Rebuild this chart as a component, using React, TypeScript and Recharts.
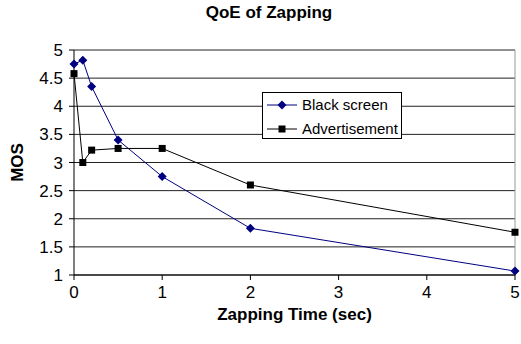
import React from 'react';
import { LineChart, Line, XAxis, YAxis, CartesianGrid, ReferenceLine } from 'recharts';

const FONT = '"Liberation Sans", Arial, sans-serif';

// zapping time (sec) and mean opinion scores per condition
const zapTimes = [0, 0.1, 0.2, 0.5, 1, 2, 5];
const blackScreen = [4.75, 4.82, 4.35, 3.4, 2.75, 1.83, 1.07];
const advertisement = [4.58, 3.0, 3.22, 3.25, 3.25, 2.6, 1.76];

const xTicks = [0, 1, 2, 3, 4, 5];
const yTicks = [1, 1.5, 2, 2.5, 3, 3.5, 4, 4.5, 5];

const rows = zapTimes.map((t, i) => ({ t, black: blackScreen[i], ad: advertisement[i] }));

const NAVY = '#000080';

const Diamond = (props: any) => {
  const { cx, cy, index } = props;
  const r = 4.5;
  return (
    <path
      key={`dia-${index}`}
      d={`M${cx},${cy - r}L${cx + r},${cy}L${cx},${cy + r}L${cx - r},${cy}Z`}
      fill={NAVY}
    />
  );
};

const Square = (props: any) => {
  const { cx, cy, index } = props;
  return <rect key={`sq-${index}`} x={cx - 3.5} y={cy - 3.5} width={7} height={7} fill="#000" />;
};

function LegendBox() {
  const items = [
    { name: 'Black screen', color: NAVY, marker: 'diamond' },
    { name: 'Advertisement', color: '#000', marker: 'square' },
  ];
  return (
    <div
      style={{
        position: 'absolute', left: 262, top: 92, width: 140, height: 47,
        boxSizing: 'border-box', border: '1px solid #000', background: '#fff',
      }}
    >
      {items.map((it, i) => (
        <div key={it.name} style={{ position: 'absolute', left: 0, top: 3 + i * 24, height: 18, display: 'flex', alignItems: 'center' }}>
          <svg width={38} height={18} style={{ display: 'block' }}>
            <line x1={4} y1={9} x2={34} y2={9} stroke={it.color} strokeWidth={1} />
            {it.marker === 'diamond'
              ? <path d="M19,4.5L23.5,9L19,13.5L14.5,9Z" fill={it.color} />
              : <rect x={15.5} y={5.5} width={7} height={7} fill={it.color} />}
          </svg>
          <span style={{ fontSize: 15, marginLeft: 1, lineHeight: '18px' }}>{it.name}</span>
        </div>
      ))}
    </div>
  );
}

export default function App() {
  return (
    <div style={{ position: 'absolute', left: 0, top: 0, width: 521, height: 344, background: '#fff', fontFamily: FONT }}>
      <div style={{ position: 'absolute', left: 0, top: 3, width: 538, textAlign: 'center', fontWeight: 'bold', fontSize: 17 }}>
        QoE of Zapping
      </div>
      <LineChart width={521} height={344} data={rows} margin={{ top: 50, right: 6, bottom: 0, left: 0 }} style={{ fontFamily: FONT }}>
        <CartesianGrid vertical={false} stroke="#222" />
        <XAxis
          dataKey="t"
          type="number"
          domain={[0, 5]}
          ticks={xTicks}
          height={69}
          tickSize={5}
          tickMargin={6}
          stroke="#000"
          tick={{ fill: '#000', fontSize: 17 }}
          label={{ value: 'Zapping Time (sec)', position: 'insideBottom', offset: 24, fill: '#000', fontSize: 17, fontWeight: 'bold' }}
        />
        <YAxis
          type="number"
          domain={[1, 5]}
          ticks={yTicks}
          width={74}
          tickSize={5}
          tickMargin={6}
          stroke="#000"
          tick={{ fill: '#000', fontSize: 17 }}
          label={{ value: 'MOS', angle: -90, position: 'insideLeft', offset: 17, fill: '#000', fontSize: 17, fontWeight: 'bold', style: { textAnchor: 'middle' } }}
        />
        <ReferenceLine x={5} stroke="#999" />
        <Line type="linear" dataKey="black" stroke={NAVY} strokeWidth={1} dot={Diamond} activeDot={false} isAnimationActive={false} />
        <Line type="linear" dataKey="ad" stroke="#000" strokeWidth={1} dot={Square} activeDot={false} isAnimationActive={false} />
      </LineChart>
      <LegendBox />
    </div>
  );
}
